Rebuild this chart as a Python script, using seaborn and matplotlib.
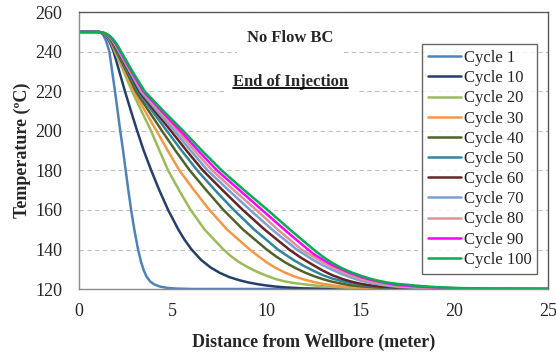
import seaborn as sns
import pandas as pd
import matplotlib.pyplot as plt
from matplotlib.lines import Line2D
from matplotlib.transforms import IdentityTransform

# distance from wellbore (m) / temperature (C) for each cycle
c1_x = [0, 1.0, 1.10, 1.20, 1.30, 1.40, 1.51, 1.62, 1.77, 1.92, 2.06, 2.2, 2.35, 2.49, 2.63, 2.78, 2.95,
        3.15, 3.3, 3.45, 3.6, 3.8, 4.0, 4.3, 4.7, 5.2, 6.0, 25]
c1_t = [250, 250, 249.8, 249.3, 248.3, 246.5, 243.5, 240, 230, 220, 210, 200, 190, 180, 170, 160, 150,
        140, 134, 129.5, 126.3, 123.8, 122.4, 121.3, 120.6, 120.25, 120.05, 120]

c10_x = [0, 1.0, 1.14, 1.27, 1.41, 1.54, 1.70, 1.85, 2.15, 2.45, 2.77, 3.1, 3.45, 3.85, 4.28, 4.75, 5.3,
         5.62, 6.0, 6.5, 7.0, 7.5, 8.0, 8.5, 9.0, 9.5, 10.0, 10.5, 11.0, 12.0, 13.0, 14.5, 25]
c10_t = [250, 250, 249.8, 249.3, 248.3, 246.5, 243.5, 240, 230, 220, 210, 200, 190, 180, 170, 160, 150,
         145, 140, 134.8, 131.0, 128.2, 126.1, 124.6, 123.4, 122.5, 121.8, 121.25, 120.85, 120.35, 120.12,
         120.03, 120]

c20_x = [0, 1.0, 1.15, 1.29, 1.44, 1.59, 1.76, 1.92, 2.38, 2.83, 3.33, 3.84, 4.29, 4.75, 5.33, 5.95, 6.7,
         7.7, 8.05, 8.5, 9.0, 9.5, 10.0, 10.5, 11.0, 11.5, 12.0, 12.5, 13.0, 14.0, 15.0, 16.0, 17.5, 25]
c20_t = [250, 250, 249.8, 249.3, 248.3, 246.5, 243.5, 240, 230, 220, 210, 200, 190, 180, 170, 160, 150,
         140, 137.0, 133.8, 131.0, 128.7, 126.7, 125.0, 123.8, 123.0, 122.4, 121.9, 121.4, 120.8, 120.3,
         120.1, 120.03, 120]

c30_x = [0, 1.0, 1.15, 1.31, 1.46, 1.61, 1.79, 1.96, 2.46, 2.93, 3.52, 4.13, 4.73, 5.35, 6.13, 6.95, 7.9,
         9.1, 9.5, 10.0, 10.5, 11.0, 11.5, 12.0, 12.5, 13.0, 13.5, 14.0, 15.0, 16.0, 17.0, 18.5, 25]
c30_t = [250, 250, 249.8, 249.3, 248.3, 246.5, 243.5, 240, 230, 220, 210, 200, 190, 180, 170, 160, 150,
         140, 137.0, 133.5, 130.6, 128.2, 126.3, 124.8, 123.6, 122.6, 121.9, 121.3, 120.6, 120.3, 120.12,
         120.03, 120]

c40_x = [0, 1.0, 1.16, 1.32, 1.48, 1.64, 1.82, 2.0, 2.53, 3.03, 3.72, 4.42, 5.14, 5.9, 6.78, 7.7, 8.75,
         10.0, 10.5, 11.0, 11.5, 12.0, 12.5, 13.0, 13.5, 14.0, 14.5, 15.0, 16.0, 17.0, 18.0, 19.5, 25]
c40_t = [250, 250, 249.8, 249.3, 248.3, 246.5, 243.5, 240, 230, 220, 210, 200, 190, 180, 170, 160, 150,
         140, 136.5, 133.4, 130.8, 128.5, 126.6, 125.0, 123.7, 122.7, 121.9, 121.4, 120.7, 120.3, 120.1,
         120.02, 120]

c50_x = [0, 1.0, 1.17, 1.34, 1.50, 1.67, 1.87, 2.05, 2.6, 3.13, 3.9, 4.68, 5.47, 6.3, 7.25, 8.25, 9.35,
         10.6, 11.0, 11.5, 12.0, 12.5, 13.0, 13.5, 14.0, 14.5, 15.0, 15.5, 16.0, 17.0, 18.0, 19.5, 25]
c50_t = [250, 250, 249.8, 249.3, 248.3, 246.5, 243.5, 240, 230, 220, 210, 200, 190, 180, 170, 160, 150,
         140, 137.4, 134.3, 131.6, 129.2, 127.0, 125.3, 124.0, 123.0, 122.2, 121.6, 121.1, 120.5, 120.2,
         120.05, 120]

c60_x = [0, 1.0, 1.17, 1.35, 1.52, 1.70, 1.90, 2.09, 2.66, 3.21, 4.04, 4.9, 5.73, 6.6, 7.65, 8.73, 9.9,
         11.2, 11.8, 12.5, 13.0, 13.5, 14.0, 14.5, 15.0, 15.5, 16.0, 17.0, 18.0, 19.0, 20.5, 25]
c60_t = [250, 250, 249.8, 249.3, 248.3, 246.5, 243.5, 240, 230, 220, 210, 200, 190, 180, 170, 160, 150,
         140, 136.0, 132.0, 129.3, 127.0, 125.2, 123.8, 122.7, 121.9, 121.3, 120.6, 120.3, 120.12, 120.03, 120]

c70_x = [0, 1.0, 1.18, 1.36, 1.54, 1.72, 1.93, 2.13, 2.71, 3.29, 4.16, 5.08, 5.95, 6.85, 7.97, 9.12, 10.3,
         11.6, 12.5, 13.0, 13.5, 14.0, 14.5, 15.0, 15.5, 16.0, 16.5, 17.0, 18.0, 19.0, 20.0, 21.5, 25]
c70_t = [250, 250, 249.8, 249.3, 248.3, 246.5, 243.5, 240, 230, 220, 210, 200, 190, 180, 170, 160, 150,
         140, 134.6, 132.0, 129.7, 127.6, 125.8, 124.3, 123.2, 122.3, 121.6, 121.1, 120.6, 120.3, 120.15,
         120.05, 120]

c80_x = [0, 1.0, 1.19, 1.37, 1.56, 1.75, 1.96, 2.17, 2.76, 3.36, 4.28, 5.25, 6.15, 7.1, 8.25, 9.45, 10.6,
         11.85, 12.5, 13.0, 13.5, 14.0, 14.5, 15.0, 15.5, 16.0, 16.5, 17.0, 18.0, 19.0, 20.0, 21.0, 22.0, 25]
c80_t = [250, 250, 249.8, 249.3, 248.3, 246.5, 243.5, 240, 230, 220, 210, 200, 190, 180, 170, 160, 150,
         140, 136.3, 133.5, 131.0, 128.8, 126.9, 125.2, 123.9, 122.9, 122.1, 121.5, 120.9, 120.5, 120.3,
         120.15, 120.07, 120]

c90_x = [0, 1.0, 1.19, 1.39, 1.58, 1.77, 2.0, 2.21, 2.8, 3.43, 4.4, 5.4, 6.35, 7.35, 8.55, 9.75, 10.95,
         12.2, 12.5, 13.0, 13.5, 14.0, 14.5, 15.0, 15.5, 16.0, 16.5, 17.0, 18.0, 19.0, 20.0, 21.0, 22.0,
         23.5, 25]
c90_t = [250, 250, 249.8, 249.3, 248.3, 246.5, 243.5, 240, 230, 220, 210, 200, 190, 180, 170, 160, 150,
         140, 137.7, 134.8, 132.1, 129.9, 127.9, 126.2, 124.8, 123.7, 122.8, 122.1, 121.3, 120.8, 120.45,
         120.25, 120.12, 120.04, 120]

c100_x = [0, 1.0, 1.2, 1.4, 1.6, 1.8, 2.03, 2.25, 2.85, 3.5, 4.5, 5.55, 6.55, 7.6, 8.8, 10.05, 11.25,
          12.5, 13.0, 13.5, 14.0, 14.5, 15.0, 15.5, 16.0, 16.5, 17.0, 18.0, 19.0, 20.0, 21.0, 22.0, 23.5, 25]
c100_t = [250, 250, 249.8, 249.3, 248.3, 246.5, 243.5, 240, 230, 220, 210, 200, 190, 180, 170, 160, 150,
          140, 136.3, 133.2, 130.6, 128.5, 126.8, 125.3, 124.1, 123.2, 122.6, 121.7, 121.0, 120.6, 120.3,
          120.15, 120.05, 120]

cycles = ['Cycle 1', 'Cycle 10', 'Cycle 20', 'Cycle 30', 'Cycle 40', 'Cycle 50',
          'Cycle 60', 'Cycle 70', 'Cycle 80', 'Cycle 90', 'Cycle 100']
xs = [c1_x, c10_x, c20_x, c30_x, c40_x, c50_x, c60_x, c70_x, c80_x, c90_x, c100_x]
ts = [c1_t, c10_t, c20_t, c30_t, c40_t, c50_t, c60_t, c70_t, c80_t, c90_t, c100_t]
colors = ['#4F81BD', '#243F6B', '#9BBB59', '#F79646', '#4F6228', '#31859C',
          '#632523', '#7BA0D4', '#D99694', '#FF00FF', '#00B050']

rows = []
for name, x, t in zip(cycles, xs, ts):
    for a, b in zip(x, t):
        rows.append({'dist': a, 'temp': b, 'cycle': name})
df = pd.DataFrame(rows)

sns.set_style('white')
plt.rcParams['font.family'] = ['Liberation Serif', 'DejaVu Serif']

fig = plt.figure(figsize=(5.56, 3.56), dpi=100)
ax = fig.add_axes([0.142, 0.188, 0.844, 0.778])

sns.lineplot(data=df, x='dist', y='temp', hue='cycle', hue_order=cycles,
             palette=dict(zip(cycles, colors)), sort=False, estimator=None,
             linewidth=1.8, ax=ax)
for ln in ax.lines:
    ln.set_solid_joinstyle('round')

ax.set_xlim(0, 25)
ax.set_ylim(120, 260)
ax.set_xticks([0, 5, 10, 15, 20, 25])
ax.set_yticks(range(120, 261, 20))
ax.tick_params(labelsize=13, length=4, color='#8C8C8C', direction='out')
ax.tick_params(axis='y', pad=8)
ax.tick_params(axis='x', pad=6)
ax.yaxis.grid(True, color='#C0C0C0', linestyle=(0, (4, 3)), linewidth=0.8)
ax.set_axisbelow(True)
for s in ['top', 'right']:
    ax.spines[s].set_color('#595959')
for s in ['left', 'bottom']:
    ax.spines[s].set_color('#8C8C8C')
for s in ax.spines.values():
    s.set_linewidth(1.0)

ax.set_xlabel('Distance from Wellbore (meter)', fontsize=13, fontweight='bold', labelpad=10)
ax.set_ylabel('Temperature (ºC)', fontsize=13, fontweight='bold', labelpad=3)

handles, labels = ax.get_legend_handles_labels()
leg = ax.legend(handles, labels, loc='upper right', bbox_to_anchor=(0.977, 0.884),
                fontsize=12, frameon=True, fancybox=False, edgecolor='#404040',
                handlelength=2.0, handletextpad=0.15, labelspacing=0.25,
                borderpad=0.35, borderaxespad=0)
leg.get_frame().set_linewidth(1.0)

ax.text(11.25, 247.1, 'No Flow BC', fontsize=12, fontweight='bold', ha='center', va='center',
        bbox=dict(facecolor='white', edgecolor='none', boxstyle='square,pad=0.6'))
t2 = ax.text(11.25, 224.9, 'End of Injection', fontsize=12, fontweight='bold', ha='center',
             va='center', bbox=dict(facecolor='white', edgecolor='none', boxstyle='square,pad=0.5'))

fig.canvas.draw()
bb = t2.get_window_extent()
fig.add_artist(Line2D([bb.x0, bb.x1], [bb.y0 + 2, bb.y0 + 2], transform=IdentityTransform(),
                      color='black', linewidth=1.3))

fig.savefig('out.png', dpi=100)
